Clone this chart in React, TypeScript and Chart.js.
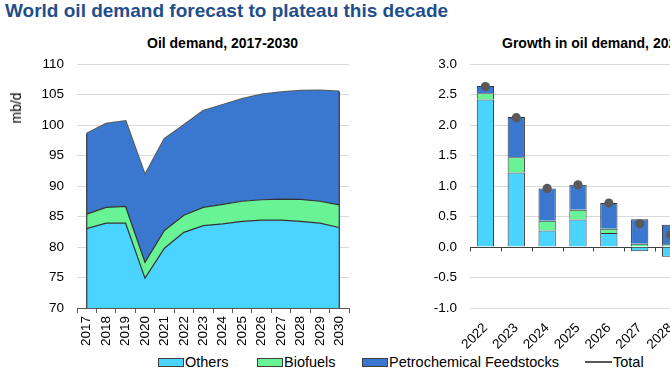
import React, { useEffect, useRef } from 'react';
import { Chart, registerables } from 'chart.js';
Chart.register(...registerables);

const FONT = "'Liberation Sans', Arial, sans-serif";
Chart.defaults.font.family = FONT;

// Left panel: oil demand (mb/d)
const years = ['2017', '2018', '2019', '2020', '2021', '2022', '2023', '2024', '2025', '2026', '2027', '2028', '2029', '2030'];
const others = [83.0, 83.9, 83.9, 74.9, 79.8, 82.4, 83.5, 83.8, 84.2, 84.4, 84.4, 84.2, 83.9, 83.2];
const biofuels = [2.4, 2.6, 2.75, 2.6, 2.9, 2.8, 3.0, 3.2, 3.3, 3.35, 3.45, 3.6, 3.6, 3.7];
const petrochem = [13.2, 13.7, 14.0, 14.3, 15.0, 14.8, 15.8, 16.3, 16.75, 17.25, 17.5, 17.8, 18.15, 18.6];
const total = [98.6, 100.2, 100.65, 91.8, 97.7, 100.0, 102.3, 103.3, 104.25, 105.0, 105.35, 105.6, 105.65, 105.5];
const leftTicks = [70, 75, 80, 85, 90, 95, 100, 105, 110];

// Right panel: growth in oil demand (mb/d)
const growthYears = ['2022', '2023', '2024', '2025', '2026', '2027', '2028'];
const growthOthers = [2.42, 1.22, 0.27, 0.45, 0.23, -0.07, -0.16];
const growthBiofuels = [0.10, 0.25, 0.16, 0.16, 0.07, 0.055, 0.045];
const growthPetrochem = [0.12, 0.66, 0.53, 0.41, 0.42, 0.40, 0.32];
const growthTotal = [2.63, 2.12, 0.96, 1.02, 0.72, 0.38, 0.20];

const C_OTHERS = '#4BD4FF';
const C_BIO = '#68F495';
const C_PETRO = '#3A78CF';
const C_TOTAL = '#595959';
const C_EDGE = '#333333';
const C_GRID = '#D9D9D9';

const edgePlugin = {
  id: 'areaEdges',
  afterDatasetsDraw(chart: any) {
    const x = chart.scales.x;
    const y = chart.scales.y;
    const ctx = chart.ctx;
    ctx.save();
    ctx.strokeStyle = C_EDGE;
    ctx.lineWidth = 1.2;
    const n = total.length;
    [0, n - 1].forEach((i) => {
      const px = x.getPixelForValue(i);
      ctx.beginPath();
      ctx.moveTo(px, y.getPixelForValue(total[i]));
      ctx.lineTo(px, chart.chartArea.bottom);
      ctx.stroke();
    });
    ctx.restore();
  },
};

const zeroAxisPlugin = {
  id: 'zeroAxis',
  beforeDatasetsDraw(chart: any) {
    const x = chart.scales.x;
    const y = chart.scales.y;
    const ctx = chart.ctx;
    const py = Math.round(y.getPixelForValue(0)) + 0.5;
    ctx.save();
    ctx.strokeStyle = '#404040';
    ctx.lineWidth = 1;
    ctx.beginPath();
    ctx.moveTo(chart.chartArea.left, py);
    ctx.lineTo(chart.chartArea.right, py);
    const n = growthYears.length;
    const half = (x.getPixelForValue(1) - x.getPixelForValue(0)) / 2;
    for (let i = 0; i <= n; i++) {
      const px = Math.round(x.getPixelForValue(Math.min(i, n - 1)) + (i === n ? half : -half)) + 0.5;
      ctx.moveTo(px, py);
      ctx.lineTo(px, py + 4);
    }
    ctx.stroke();
    ctx.restore();
  },
};

function LeftChart() {
  const ref = useRef<HTMLCanvasElement>(null);
  useEffect(() => {
    const chart = new Chart(ref.current!, {
      type: 'line',
      data: {
        labels: years,
        datasets: [
          { label: 'Others', data: others, backgroundColor: C_OTHERS, borderColor: C_EDGE, borderWidth: 1.2, fill: 'start', pointRadius: 0, tension: 0 } as any,
          { label: 'Biofuels', data: biofuels, backgroundColor: C_BIO, borderColor: C_EDGE, borderWidth: 1.2, fill: '-1', pointRadius: 0, tension: 0 } as any,
          { label: 'Petrochemical Feedstocks', data: petrochem, backgroundColor: C_PETRO, borderColor: C_PETRO, borderWidth: 0, fill: '-1', pointRadius: 0, tension: 0 } as any,
          { label: 'Total', data: total, stack: 'total', borderColor: C_TOTAL, borderWidth: 2, fill: false, pointRadius: 0, tension: 0 } as any,
        ],
      },
      options: {
        animation: false,
        responsive: false,
        maintainAspectRatio: false,
        layout: { padding: { top: 64, right: 11, left: 0, bottom: 0 } },
        plugins: { legend: { display: false }, tooltip: { enabled: false } },
        scales: {
          x: {
            offset: true,
            afterFit: (s: any) => { s.height = 42; },
            grid: { display: true, drawOnChartArea: false, drawTicks: true, tickLength: 5, color: '#595959', offset: true },
            border: { display: true, color: '#595959', width: 1 },
            ticks: { minRotation: 90, maxRotation: 90, autoSkip: false, padding: 3, color: '#000', font: { size: 13.5 } },
          },
          y: {
            stacked: true,
            min: 70,
            max: 110,
            afterFit: (s: any) => { s.width = 77; },
            afterBuildTicks: (s: any) => { s.ticks = leftTicks.map((v) => ({ value: v })); },
            grid: { color: C_GRID, drawTicks: false, lineWidth: 1 },
            border: { display: false },
            ticks: { padding: 13, color: '#000', font: { size: 13.5 } },
          },
        },
      },
      plugins: [edgePlugin],
    });
    return () => chart.destroy();
  }, []);
  return <canvas ref={ref} width={360} height={350} style={{ position: 'absolute', left: 0, top: 0, width: 360, height: 350 }} />;
}

function RightChart() {
  const ref = useRef<HTMLCanvasElement>(null);
  useEffect(() => {
    const chart = new Chart(ref.current!, {
      type: 'bar',
      data: {
        labels: growthYears,
        datasets: [
          { type: 'line', label: 'Total', data: growthTotal, stack: 'total', showLine: false, pointRadius: 4.6, pointBackgroundColor: C_TOTAL, pointBorderColor: C_TOTAL, pointBorderWidth: 0, order: 0 } as any,
          { label: 'Others', data: growthOthers, backgroundColor: C_OTHERS, borderColor: C_EDGE, borderWidth: 1, stack: 'a', order: 1 },
          { label: 'Biofuels', data: growthBiofuels, backgroundColor: C_BIO, borderColor: C_EDGE, borderWidth: 1, stack: 'a', order: 1 },
          { label: 'Petrochemical Feedstocks', data: growthPetrochem, backgroundColor: C_PETRO, borderColor: C_EDGE, borderWidth: 1, stack: 'a', order: 1 },
        ],
      },
      options: {
        animation: false,
        responsive: false,
        maintainAspectRatio: false,
        layout: { padding: { top: 64, right: 14, left: 0, bottom: 0 } },
        datasets: { bar: { categoryPercentage: 1, barPercentage: 0.56 } },
        plugins: { legend: { display: false }, tooltip: { enabled: false } },
        scales: {
          x: {
            stacked: true,
            afterFit: (s: any) => { s.height = 42; },
            grid: { display: false },
            border: { display: false },
            ticks: { minRotation: 45, maxRotation: 45, autoSkip: false, padding: 4, color: '#000', font: { size: 13.5 } },
          },
          y: {
            stacked: true,
            min: -1,
            max: 3,
            afterFit: (s: any) => { s.width = 90; },
            grid: { color: C_GRID, drawTicks: false, lineWidth: 1 },
            border: { display: false },
            ticks: { stepSize: 0.5, padding: 13, color: '#000', font: { size: 13.5 }, callback: (v: any) => Number(v).toFixed(1) },
          },
        },
      },
      plugins: [zeroAxisPlugin],
    });
    return () => chart.destroy();
  }, []);
  return <canvas ref={ref} width={320} height={350} style={{ position: 'absolute', left: 380, top: 0, width: 320, height: 350 }} />;
}

const legendItems = [
  { label: 'Others', color: C_OTHERS, left: 158, kind: 'box' },
  { label: 'Biofuels', color: C_BIO, left: 257, kind: 'box' },
  { label: 'Petrochemical Feedstocks', color: C_PETRO, left: 362, kind: 'box' },
  { label: 'Total', color: C_TOTAL, left: 585, kind: 'line' },
];

export default function App() {
  return (
    <div style={{ position: 'fixed', left: 0, top: 0, width: 670, height: 380, overflow: 'hidden', background: '#fff', fontFamily: FONT }}>
      <div style={{ position: 'absolute', left: 5, top: 0, fontSize: 19, fontWeight: 'bold', color: '#1F4E8C', whiteSpace: 'nowrap', lineHeight: '22px' }}>
        World oil demand forecast to plateau this decade
      </div>
      <div style={{ position: 'absolute', left: 147, top: 35, fontSize: 14, fontWeight: 'bold', color: '#000', whiteSpace: 'nowrap', lineHeight: '16px' }}>
        Oil demand, 2017-2030
      </div>
      <div style={{ position: 'absolute', left: 502, top: 35, fontSize: 14, fontWeight: 'bold', color: '#000', whiteSpace: 'nowrap', lineHeight: '16px' }}>
        Growth in oil demand, 2022-2030
      </div>
      <LeftChart />
      <RightChart />
      <div style={{ position: 'absolute', left: 16, top: 108, width: 0, height: 0 }}>
        <div style={{ position: 'absolute', transform: 'translate(-50%, -50%) rotate(-90deg)', fontSize: 14, color: '#000', whiteSpace: 'nowrap', fontWeight: 'normal' }}>mb/d</div>
      </div>
      {legendItems.map((it) => (
        <div key={it.label} style={{ position: 'absolute', left: it.left, top: 354, height: 17, whiteSpace: 'nowrap', fontSize: 14.5, lineHeight: '17px', color: '#000' }}>
          {it.kind === 'box' ? (
            <span style={{ display: 'inline-block', width: 24, height: 7, background: it.color, border: '1px solid #404040', verticalAlign: 'middle', marginRight: 1, position: 'relative', top: -1 }} />
          ) : (
            <span style={{ display: 'inline-block', width: 27, height: 2, background: it.color, verticalAlign: 'middle', marginRight: 1, position: 'relative', top: -1 }} />
          )}
          {it.label}
        </div>
      ))}
    </div>
  );
}
